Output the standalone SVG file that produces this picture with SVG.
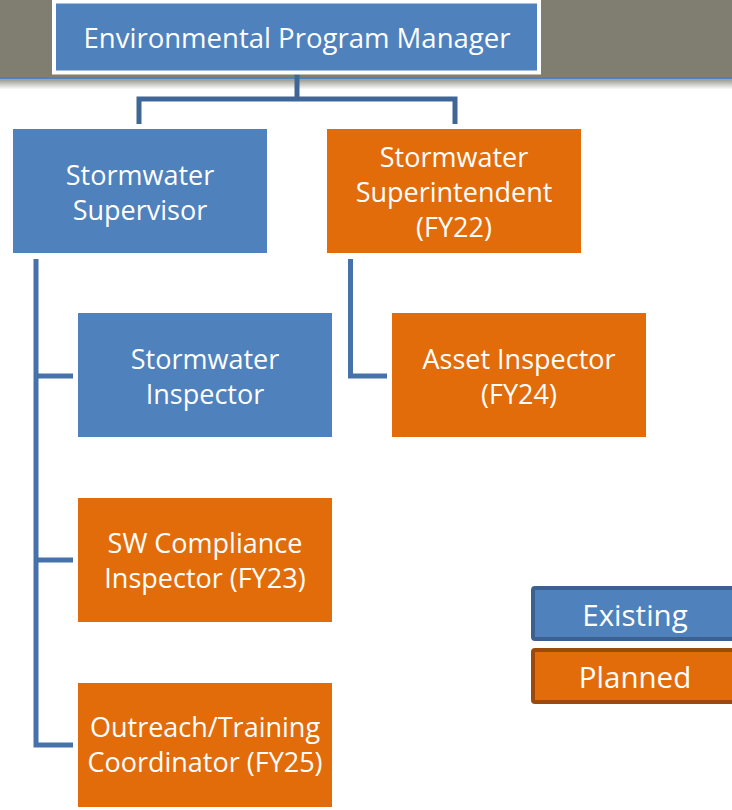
<svg xmlns="http://www.w3.org/2000/svg" width="732" height="810" viewBox="0 0 732 810">
<defs>
<linearGradient id="shadow" x1="0" y1="0" x2="0" y2="1">
<stop offset="0" stop-color="#9a9a92"/>
<stop offset="1" stop-color="#ffffff"/>
</linearGradient>
<style>
.blue{fill:#4f81bd}
.orange{fill:#e36c0a}
.t{font-family:"Open Sans","Noto Sans",sans-serif;font-size:27px;fill:#ffffff;text-anchor:middle}
.c{fill:none;stroke:#4672ab;stroke-width:5;stroke-linejoin:miter}
</style>
</defs>
<rect x="0" y="0" width="732" height="78" fill="#7f7e71"/>
<rect x="0" y="79.5" width="732" height="10" fill="url(#shadow)"/>
<rect x="0" y="77" width="732" height="2.5" fill="#4f81bd"/>
<g id="connectors">
<path class="c" style="stroke:#3f6696" d="M297,74 V99 M139,124 V99 H455 V124"/>
<path class="c" d="M36,259 V745 H73 M36,376 H73 M36,560 H73"/>
<path class="c" d="M350.5,259 V376 H387"/>
</g>
<g id="manager">
<rect x="54" y="1.5" width="485" height="71" fill="#4f81bd" stroke="#ffffff" stroke-width="4"/>
<text class="t" x="297" y="48" textLength="427" lengthAdjust="spacingAndGlyphs">Environmental Program Manager</text>
</g>
<g id="supervisor">
<rect class="blue" x="13" y="129" width="254" height="124"/>
<text class="t" x="140" y="185">Stormwater</text>
<text class="t" x="140" y="220">Supervisor</text>
</g>
<g id="superintendent">
<rect class="orange" x="327" y="129" width="254" height="124"/>
<text class="t" x="454" y="167">Stormwater</text>
<text class="t" x="454" y="202">Superintendent</text>
<text class="t" x="454" y="237">(FY22)</text>
</g>
<g id="inspector">
<rect class="blue" x="78" y="313" width="254" height="124"/>
<text class="t" x="205" y="369">Stormwater</text>
<text class="t" x="205" y="404">Inspector</text>
</g>
<g id="asset">
<rect class="orange" x="392" y="313" width="254" height="124"/>
<text class="t" x="519" y="369">Asset Inspector</text>
<text class="t" x="519" y="404">(FY24)</text>
</g>
<g id="compliance">
<rect class="orange" x="78" y="498" width="254" height="124"/>
<text class="t" x="205" y="553">SW Compliance</text>
<text class="t" x="205" y="588">Inspector (FY23)</text>
</g>
<g id="outreach">
<rect class="orange" x="78" y="683" width="254" height="124"/>
<text class="t" x="205" y="737">Outreach/Training</text>
<text class="t" x="205" y="772">Coordinator (FY25)</text>
</g>
<g id="legend-existing">
<rect x="533" y="588" width="210" height="51" fill="#4f81bd" stroke="#3c6190" stroke-width="4" rx="2"/>
<text class="t" x="635" y="626" style="font-size:29.5px">Existing</text>
</g>
<g id="legend-planned">
<rect x="533" y="650" width="210" height="52" fill="#e36c0a" stroke="#9c4a0c" stroke-width="4" rx="2"/>
<text class="t" x="635" y="688" style="font-size:29.5px">Planned</text>
</g>
</svg>
